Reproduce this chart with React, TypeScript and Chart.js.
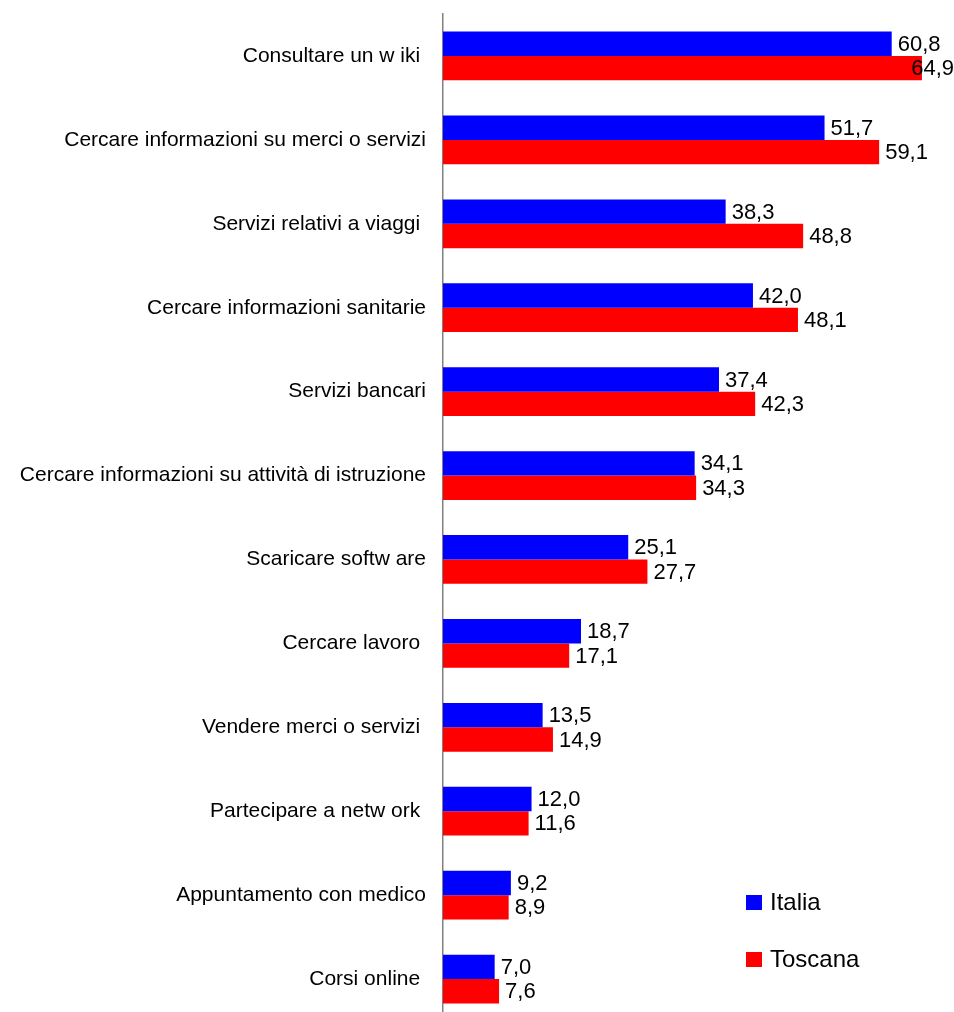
import React, { useEffect, useRef } from "react";
import { Chart, registerables } from "chart.js";

Chart.register(...registerables);

const categories: string[] = [
  "Consultare un w iki ",
  "Cercare informazioni su merci o servizi",
  "Servizi relativi a viaggi ",
  "Cercare informazioni sanitarie",
  "Servizi bancari",
  "Cercare informazioni su attività di istruzione",
  "Scaricare softw are",
  "Cercare lavoro ",
  "Vendere merci o servizi ",
  "Partecipare a netw ork ",
  "Appuntamento con medico",
  "Corsi online ",
];

const italia: number[] = [60.8, 51.7, 38.3, 42.0, 37.4, 34.1, 25.1, 18.7, 13.5, 12.0, 9.2, 7.0];
const toscana: number[] = [64.9, 59.1, 48.8, 48.1, 42.3, 34.3, 27.7, 17.1, 14.9, 11.6, 8.9, 7.6];

const seriesNames: string[] = ["Italia", "Toscana"];
const seriesColors: string[] = ["#0000FF", "#FF0000"];

const FONT = "'Liberation Sans', Arial, sans-serif";

const valueLabels = {
  id: "valueLabels",
  afterDatasetsDraw(chart: any) {
    const ctx = chart.ctx;
    ctx.save();
    ctx.font = `22px ${FONT}`;
    ctx.fillStyle = "#000";
    ctx.textAlign = "left";
    ctx.textBaseline = "middle";
    chart.data.datasets.forEach((ds: any, di: number) => {
      const meta = chart.getDatasetMeta(di);
      meta.data.forEach((bar: any, i: number) => {
        const v = ds.data[i] as number;
        const txt = v.toFixed(1).replace(".", ",");
        const w = ctx.measureText(txt).width;
        const x = Math.min(bar.x + 6, chart.width - w);
        ctx.fillText(txt, x, bar.y + 1);
      });
    });
    ctx.restore();
  },
};

export default function App() {
  const ref = useRef<HTMLCanvasElement | null>(null);
  useEffect(() => {
    if (!ref.current) return;
    const chart = new Chart(ref.current, {
      type: "bar",
      data: {
        labels: categories,
        datasets: [
          { label: seriesNames[0], data: italia, backgroundColor: seriesColors[0] },
          { label: seriesNames[1], data: toscana, backgroundColor: seriesColors[1] },
        ],
      },
      options: {
        indexAxis: "y",
        responsive: false,
        animation: false,
        datasets: { bar: { categoryPercentage: 0.58, barPercentage: 1 } },
        layout: { padding: { top: 14, right: 4, bottom: 9, left: 0 } },
        plugins: { legend: { display: false }, tooltip: { enabled: false } },
        scales: {
          x: { display: false, min: 0, max: 68.7 },
          y: {
            grid: { display: false },
            border: { display: true, color: "#808080", width: 1.5 },
            ticks: { color: "#000", font: { family: FONT, size: 21 }, padding: 9 },
            afterFit: (s: any) => {
              s.width = 443;
              s.paddingTop = 0;
              s.paddingBottom = 0;
            },
          },
        },
      },
      plugins: [valueLabels],
    });
    return () => chart.destroy();
  }, []);

  const legendItem = (i: number, top: number) => (
    <div
      key={i}
      style={{ position: "absolute", left: 746, top, display: "flex", alignItems: "center", height: 28 }}
    >
      <span style={{ width: 16, height: 15, background: seriesColors[i], display: "inline-block" }} />
      <span style={{ marginLeft: 8, font: `24px ${FONT}`, color: "#000", lineHeight: "28px" }}>{seriesNames[i]}</span>
    </div>
  );

  return (
    <div style={{ position: "fixed", left: 0, top: 0, width: 954, height: 1012, overflow: "hidden", background: "#fff" }}>
      <canvas ref={ref} width={954} height={1030} style={{ display: "block" }} />
      {legendItem(0, 888)}
      {legendItem(1, 945)}
    </div>
  );
}
